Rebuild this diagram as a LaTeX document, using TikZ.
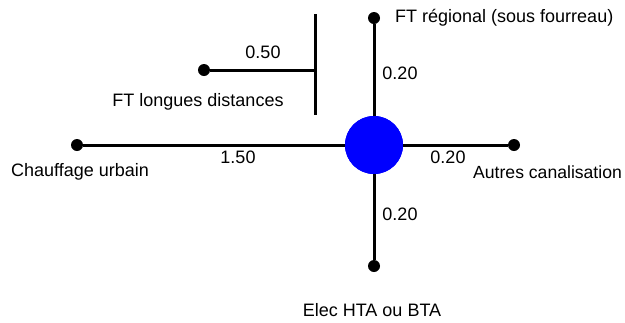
\documentclass[tikz,border=0pt]{standalone}
\usepackage{fontspec}
\setmainfont{Liberation Sans}
\usetikzlibrary{positioning}

\tikzset{
  pipe/.style={line width=3pt, black},
  dot/.style={circle, fill=black, inner sep=0pt, minimum size=12pt},
  hub/.style={circle, fill=blue, inner sep=0pt, minimum size=58pt},
  lbl/.style={inner sep=0pt, font=\fontsize{18}{20}\selectfont}
}

\begin{document}
\begin{tikzpicture}[x=1pt, y=-1pt]
\useasboundingbox (0,0) rectangle (625,322);
% network
\node[hub] (hub) at (374,145) {};
\node[dot] (top) at (374,18) {};
\node[dot] (bottom) at (374,266) {};
\node[dot] (left) at (77,145) {};
\node[dot] (right) at (514,145) {};
\node[dot] (far) at (204,70) {};
\coordinate (bartop) at (315,14);
\coordinate (barbot) at (315,115);
\coordinate (barmid) at (315,70);
\draw[pipe] (top) -- (hub);
\draw[pipe] (hub) -- (bottom);
\draw[pipe] (left) -- (hub);
\draw[pipe] (hub) -- (right);
\draw[pipe] (bartop) -- (barbot);
\draw[pipe] (far) -- (barmid);
\node[hub] at (hub) {};
% labels
\node[lbl, anchor=west] (ftreg) at (395,18) {FT régional (sous fourreau)};
\node[lbl] (ltop) at (400,73) {0.20};
\node[lbl] (lfar) at (263,52) {0.50};
\node[lbl] (ftlong) at (198,102) {FT longues distances};
\node[lbl] (lleft) at (238,157) {1.50};
\node[lbl] (lright) at (448,157) {0.20};
\node[lbl] (chauf) at (80,172) {Chauffage urbain};
\node[lbl, anchor=west, font=\fontsize{17.6}{20}\selectfont] (autres) at (473,172) {Autres canalisation};
\node[lbl] (lbottom) at (400,214) {0.20};
\node[lbl] (elec) at (372,310) {Elec HTA ou BTA};
\end{tikzpicture}
\end{document}
